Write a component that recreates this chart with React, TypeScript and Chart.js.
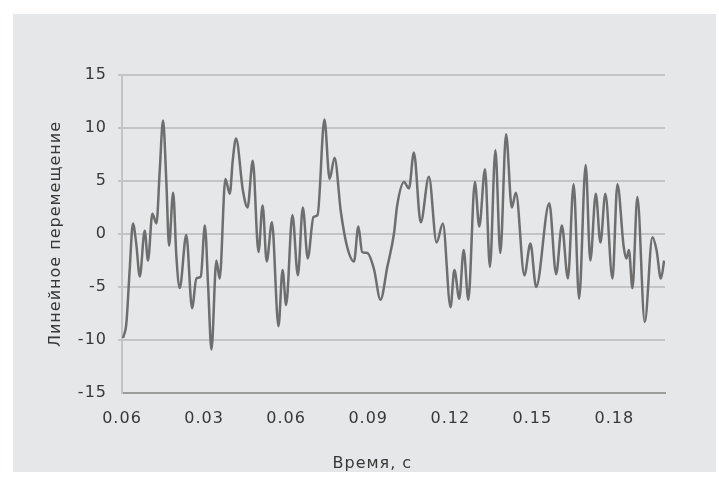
import React, { useEffect, useRef } from "react";
import { Chart, registerables } from "chart.js";

Chart.register(...registerables);

const timeValues: number[] = [
  0.0004, 0.0016, 0.0028, 0.0040, 0.0052, 0.0065, 0.0083, 0.0095, 0.0111, 0.0126,
  0.0138, 0.0150, 0.0162, 0.0172, 0.0187, 0.0199, 0.0211, 0.0235, 0.0256, 0.0272,
  0.0288, 0.0303, 0.0315, 0.0327, 0.0345, 0.0357, 0.0378, 0.0394, 0.0405,
  0.0417, 0.0442, 0.0459, 0.0478, 0.0499, 0.0514, 0.0529, 0.0548, 0.0572, 0.0587,
  0.0600, 0.0623, 0.0643, 0.0661, 0.0679, 0.0700, 0.0715, 0.0740, 0.0759, 0.0777,
  0.0800, 0.0823, 0.0848, 0.0864, 0.0878, 0.0897, 0.0921, 0.0945, 0.0970, 0.0994,
  0.1006, 0.1031, 0.1049, 0.1067, 0.1092, 0.1122, 0.1150, 0.1173, 0.1201, 0.1215,
  0.1233, 0.1249, 0.1266, 0.1290, 0.1306, 0.1327, 0.1345, 0.1365, 0.1383, 0.1404,
  0.1425, 0.1440, 0.1471, 0.1493, 0.1514, 0.1562, 0.1587, 0.1608, 0.1630,
  0.1651, 0.1671, 0.1695, 0.1712, 0.1732, 0.1749, 0.1767, 0.1793, 0.1811, 0.1834,
  0.1844, 0.1853, 0.1866, 0.1884, 0.1911, 0.1939, 0.1954, 0.1970, 0.1982,
];

const displacementValues: number[] = [
  -9.8, -8.4, -3.4, 1.0, -0.9, -4.0, 0.3, -2.5, 1.9, 1.0,
  6.0, 10.7, 5.0, -1.1, 3.9, -2.2, -5.1, -0.1, -7.0, -4.2,
  -4.0, 0.8, -5.0, -10.9, -2.5, -4.2, 5.2, 3.8, 7.0,
  9.0, 4.1, 2.5, 6.9, -1.7, 2.7, -2.6, 1.1, -8.7, -3.4,
  -6.7, 1.8, -3.9, 2.5, -2.3, 1.6, 1.8, 10.8, 5.2, 7.2,
  2.1, -1.2, -2.6, 0.7, -1.7, -1.8, -3.3, -6.2, -3.1, 0.0,
  2.7, 4.9, 4.3, 7.7, 1.1, 5.4, -0.8, 1.0, -6.9, -3.4,
  -6.1, -1.5, -6.2, 4.9, 0.7, 6.1, -3.1, 7.9, -1.8, 9.4,
  2.5, 3.9, -3.9, -0.9, -5.0, 2.9, -3.8, 0.8, -4.2,
  4.7, -6.1, 6.5, -2.5, 3.8, -0.8, 3.8, -4.2, 4.7, -1.2,
  -2.3, -1.5, -5.1, 3.5, -8.3, -0.3, -1.5, -4.2, -2.5,
];

const xTickValues: number[] = [0, 0.03, 0.06, 0.09, 0.12, 0.15, 0.18];
const xTickLabels: string[] = ["0.06", "0.03", "0.06", "0.09", "0.12", "0.15", "0.18"];
const yTickValues: number[] = [-15, -10, -5, 0, 5, 10, 15];
const xAxisTitle = "Время, с";
const yAxisTitle = "Линейное перемещение";

const FONT = "'DejaVu Sans', sans-serif";
const TEXT = "#383838";
const SPACING = "1px";

export default function App() {
  const ref = useRef<HTMLCanvasElement | null>(null);

  useEffect(() => {
    if (!ref.current) return;
    const setSpacing = (chart: any) => {
      try {
        (chart.ctx as any).letterSpacing = SPACING;
      } catch (e) {}
    };
    const bgPlugin = {
      id: "bgbox",
      beforeUpdate(chart: any) {
        setSpacing(chart);
      },
      beforeLayout(chart: any) {
        setSpacing(chart);
      },
      beforeDraw(chart: any) {
        const ctx = chart.ctx;
        setSpacing(chart);
        ctx.save();
        ctx.fillStyle = "#ffffff";
        ctx.fillRect(0, 0, chart.width, chart.height);
        ctx.fillStyle = "#e6e7e8";
        ctx.fillRect(13, 14, 703, 458);
        ctx.restore();
      },
      afterDraw(chart: any) {
        const ctx = chart.ctx;
        const xs = chart.scales.x;
        ctx.save();
        ctx.fillStyle = TEXT;
        ctx.font = `16px ${FONT}`;
        ctx.textAlign = "center";
        ctx.textBaseline = "middle";
        ctx.fillText(xAxisTitle, xs.left + (xs.right - xs.left) * 0.461, 464);
        ctx.restore();
      },
    };

    const chart = new Chart(ref.current, {
      type: "line",
      data: {
        datasets: [
          {
            data: timeValues.map((t, i) => ({ x: t, y: displacementValues[i] })),
            borderColor: "#6e6e6e",
            borderWidth: 2.5,
            pointRadius: 0,
            tension: 0.4,
            cubicInterpolationMode: "monotone",
            fill: false,
          },
        ],
      },
      options: {
        animation: false,
        responsive: false,
        maintainAspectRatio: false,
        layout: { padding: { left: 0, right: 54, top: 75, bottom: 0 } },
        plugins: { legend: { display: false }, tooltip: { enabled: false } },
        scales: {
          x: {
            type: "linear",
            min: 0,
            max: 0.1985,
            afterBuildTicks(scale: any) {
              scale.ticks = xTickValues.map((v) => ({ value: v }));
            },
            afterFit(scale: any) {
              scale.height = 93;
            },
            ticks: {
              autoSkip: false,
              maxRotation: 0,
              padding: 16,
              color: TEXT,
              font: { family: FONT, size: 16 },
              callback: (_v: any, i: number) => xTickLabels[i],
            },
            grid: { display: false, drawTicks: false },
            border: { display: true, color: "#9c9c9c", width: 2, dash: [2, 1] },
            title: { display: false },
          },
          y: {
            min: -15,
            max: 15,
            afterBuildTicks(scale: any) {
              scale.ticks = yTickValues.map((v) => ({ value: v }));
            },
            afterFit(scale: any) {
              scale.width = 122;
            },
            ticks: {
              padding: 11,
              color: TEXT,
              font: { family: FONT, size: 16 },
            },
            grid: {
              color: (c: any) => (c.tick && c.tick.value === -15 ? "rgba(0,0,0,0)" : "#c3c4c6"),
              lineWidth: 2,
              drawTicks: true,
              tickLength: 4,
            },
            border: { display: true, color: "#c3c4c6", width: 2 },
            title: {
              display: true,
              text: yAxisTitle,
              color: TEXT,
              font: { family: FONT, size: 16 },
              padding: { top: 46, bottom: 0 },
            },
          },
        },
      },
      plugins: [bgPlugin],
    });
    return () => chart.destroy();
  }, []);

  return (
    <div style={{ position: "fixed", left: 0, top: 0, width: 719, height: 486 }}>
      <canvas ref={ref} width={719} height={486} style={{ width: 719, height: 486 }} />
    </div>
  );
}
